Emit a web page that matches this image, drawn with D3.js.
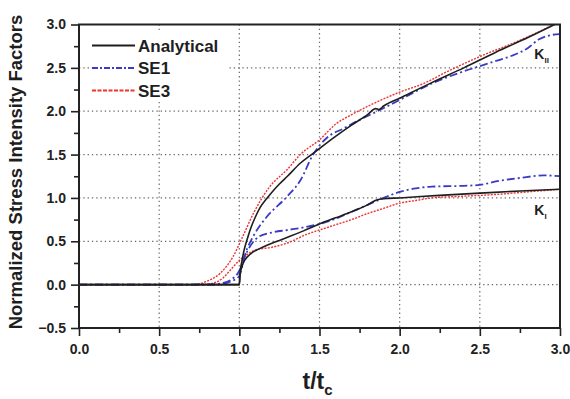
<!DOCTYPE html>
<html>
<head>
<meta charset="utf-8">
<script src="https://cdn.jsdelivr.net/npm/d3@7"></script>
<style>
  body { margin: 0; background: #fff; }
  svg { display: block; font-family: "Liberation Sans", Arial, sans-serif; }
</style>
</head>
<body>
<div id="chart"></div>
<script>
// values, [t/tc, K]
const analyticalKII = [[0,0],[1.0,0],[1.005,0.14],[1.015,0.26],[1.03,0.4],[1.05,0.53],[1.075,0.67],[1.1,0.78],
  [1.13,0.89],[1.17,0.99],[1.21,1.08],[1.25,1.16],[1.3,1.25],[1.38,1.4],[1.45,1.5],[1.5,1.57],[1.6,1.71],
  [1.7,1.84],[1.8,1.96],[1.85,2.03],[1.87,2.02],[1.9,2.06],[2.0,2.15],[2.2,2.33],[2.4,2.5],[2.6,2.68],
  [2.8,2.85],[3.0,3.03]];
const analyticalKI = [[0,0],[1.0,0],[1.004,0.12],[1.015,0.2],[1.03,0.27],[1.05,0.32],[1.08,0.37],[1.12,0.41],
  [1.18,0.46],[1.25,0.51],[1.32,0.56],[1.4,0.62],[1.5,0.7],[1.6,0.77],[1.7,0.84],[1.8,0.92],[1.86,0.98],
  [1.9,0.99],[2.0,1.0],[2.25,1.03],[2.5,1.055],[2.75,1.08],[3.0,1.1]];
const se1KII = [[0,0],[0.8,0],[0.9,0.02],[0.95,0.06],[1.0,0.16],[1.05,0.42],[1.1,0.6],[1.17,0.78],[1.3,1.02],
  [1.38,1.2],[1.46,1.5],[1.55,1.7],[1.65,1.8],[1.75,1.9],[1.85,1.99],[2.0,2.13],[2.2,2.32],[2.4,2.46],
  [2.5,2.52],[2.6,2.58],[2.7,2.64],[2.8,2.73],[2.87,2.83],[2.95,2.88],[3.0,2.89]];
const se1KI = [[0,0],[0.85,0],[0.95,0.04],[1.0,0.1],[1.03,0.3],[1.07,0.45],[1.12,0.55],[1.2,0.6],[1.3,0.63],
  [1.4,0.66],[1.5,0.7],[1.6,0.76],[1.7,0.84],[1.8,0.92],[1.9,1.0],[2.0,1.07],[2.1,1.11],[2.2,1.13],
  [2.4,1.14],[2.5,1.15],[2.6,1.19],[2.75,1.23],[2.9,1.26],[3.0,1.25]];
const se3KII = [[0,0],[0.7,0],[0.75,0.01],[0.8,0.04],[0.88,0.13],[0.96,0.32],[1.02,0.55],[1.09,0.83],
  [1.19,1.13],[1.3,1.33],[1.38,1.5],[1.5,1.67],[1.6,1.85],[1.7,1.96],[1.85,2.1],[2.0,2.22],[2.15,2.32],
  [2.3,2.46],[2.5,2.63],[2.7,2.78],[2.85,2.9],[2.95,2.99],[3.0,3.03]];
const se3KI = [[0,0],[0.75,0],[0.82,0.01],[0.9,0.08],[0.94,0.16],[1.0,0.28],[1.05,0.35],[1.1,0.4],[1.2,0.43],
  [1.3,0.48],[1.42,0.58],[1.5,0.63],[1.6,0.69],[1.7,0.75],[1.8,0.82],[1.9,0.88],[2.0,0.94],[2.1,0.97],
  [2.2,1.0],[2.4,1.02],[2.6,1.04],[2.8,1.07],[3.0,1.1]];

const xTicks = [0, 0.5, 1.0, 1.5, 2.0, 2.5, 3.0];
const yTicks = [-0.5, 0, 0.5, 1.0, 1.5, 2.0, 2.5, 3.0];
const xGrid = [0.5, 1.0, 1.5, 2.0, 2.5];
const yGrid = [0, 0.5, 1.0, 1.5, 2.0, 2.5];
const seriesNames = ["Analytical", "SE1", "SE3"];

const W = 570, H = 399;
const margin = {top: 24.5, right: 10, bottom: 71, left: 79};
const width = W - margin.left - margin.right,
    height = H - margin.top - margin.bottom;

const styles = {
  Analytical: {color: "#1e1e1e", width: 1.6, dash: null},
  SE1: {color: "#3a3ac4", width: 1.8, dash: "8,3,2,3"},
  SE3: {color: "#ee3333", width: 1.4, dash: "2,1.3"}
};

const svg = d3.select("#chart").append("svg")
    .attr("width", W).attr("height", H);
const g = svg.append("g")
    .attr("transform", `translate(${margin.left},${margin.top})`);

const x = d3.scaleLinear().domain([0, 3]).range([0, width]);
const y = d3.scaleLinear().domain([-0.5, 3]).range([height, 0]);

// grid
g.append("g").selectAll("line").data(xGrid).join("line")
    .attr("x1", d => x(d)).attr("x2", d => x(d))
    .attr("y1", 0).attr("y2", height)
    .attr("stroke", "#666").attr("stroke-width", 1.2).attr("stroke-dasharray", "1.3,3");
g.append("g").selectAll("line").data(yGrid).join("line")
    .attr("x1", 0).attr("x2", width)
    .attr("y1", d => y(d)).attr("y2", d => y(d))
    .attr("stroke", "#666").attr("stroke-width", 1.2).attr("stroke-dasharray", "1.3,3");

// legend background hides grid under it
g.append("rect")
    .attr("x", 13).attr("y", 6).attr("width", 135).attr("height", 70)
    .attr("fill", "#fff");

// curves
g.append("clipPath").attr("id", "clip").append("rect")
    .attr("width", width).attr("height", height);

const line = d3.line()
    .curve(d3.curveMonotoneX)
    .x(d => x(d[0])).y(d => y(d[1]));

const curves = [
  ["SE3", se3KII], ["SE3", se3KI],
  ["SE1", se1KII], ["SE1", se1KI],
  ["Analytical", analyticalKII], ["Analytical", analyticalKI]
];
const plot = g.append("g").attr("clip-path", "url(#clip)");
curves.forEach(([name, data]) => {
  const s = styles[name];
  plot.append("path")
      .datum(data)
      .attr("fill", "none")
      .attr("stroke", s.color)
      .attr("stroke-width", s.width)
      .attr("stroke-dasharray", s.dash)
      .attr("d", line);
});

// axes
const fmt = d3.format(".1f");
const minorX = d3.range(0, 3.001, 0.25).filter(v => Math.abs(v * 2 - Math.round(v * 2)) > 1e-6);
const minorY = d3.range(-0.5, 3.001, 0.25).filter(v => Math.abs(v * 2 - Math.round(v * 2)) > 1e-6);

g.append("g").attr("transform", `translate(0,${height})`)
    .call(d3.axisBottom(x).tickValues(xTicks).tickFormat(fmt).tickSize(8).tickPadding(8));
g.append("g").attr("transform", `translate(0,${height})`)
    .call(d3.axisBottom(x).tickValues(minorX).tickFormat("").tickSize(5));
g.append("g")
    .call(d3.axisLeft(y).tickValues(yTicks).tickFormat(fmt).tickSize(8).tickPadding(5));
g.append("g")
    .call(d3.axisLeft(y).tickValues(minorY).tickFormat("").tickSize(5));

g.selectAll(".domain").remove();
g.selectAll(".tick line").attr("stroke", "#222").attr("stroke-width", 1.6);
g.selectAll(".tick text")
    .attr("fill", "#222")
    .style("font-family", "'Liberation Sans', Arial, sans-serif")
    .style("font-size", "14px").style("font-weight", "bold");

// frame
g.append("rect")
    .attr("width", width).attr("height", height)
    .attr("fill", "none").attr("stroke", "#222").attr("stroke-width", 2);

// legend
const legend = g.append("g").attr("transform", "translate(13,21)");
seriesNames.forEach((name, i) => {
  const s = styles[name];
  const row = legend.append("g").attr("transform", `translate(0,${i * 22.5})`);
  row.append("line")
      .attr("x1", 0).attr("x2", 43)
      .attr("stroke", s.color)
      .attr("stroke-width", 2)
      .attr("stroke-dasharray", name === "SE3" ? "4,1.5" : s.dash ? "6,2,2,2" : null);
  row.append("text")
      .attr("x", 46).attr("dy", "0.36em")
      .attr("fill", "#1e1e1e")
      .style("font-size", "17px").style("font-weight", "bold")
      .text(name);
});

// curve labels
const kLabel = (tx, ty, sub) => {
  const t = g.append("text")
      .attr("x", x(tx)).attr("y", y(ty))
      .attr("fill", "#1e1e1e")
      .style("font-size", "14px").style("font-weight", "bold");
  t.append("tspan").text("K");
  t.append("tspan").attr("dy", 4).style("font-size", "8px").text(sub);
};
kLabel(2.84, 2.6, "II");
kLabel(2.84, 0.8, "I");

// axis titles
const xt = svg.append("text")
    .attr("x", margin.left + x(1.5) - 2).attr("y", 389)
    .attr("text-anchor", "middle")
    .attr("fill", "#1e1e1e")
    .style("font-size", "23px").style("font-weight", "bold");
xt.append("tspan").text("t/t");
xt.append("tspan").attr("dy", 6).style("font-size", "15px").text("c");

svg.append("text")
    .attr("transform", "translate(16,172) rotate(-90)")
    .attr("text-anchor", "middle")
    .attr("dy", "0.35em")
    .attr("fill", "#1e1e1e")
    .style("font-size", "18.5px").style("font-weight", "bold")
    .text("Normalized Stress Intensity Factors");
</script>
</body>
</html>
